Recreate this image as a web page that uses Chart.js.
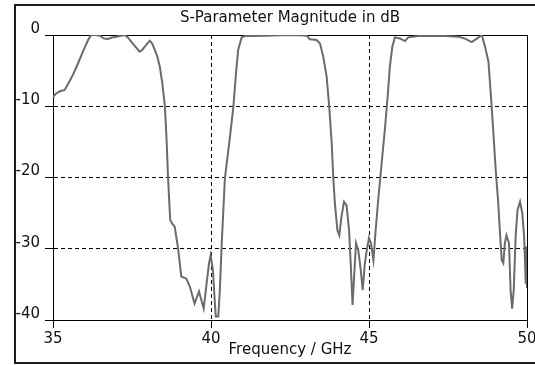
<!DOCTYPE html>
<html>
<head>
<meta charset="utf-8">
<title>S-Parameter Magnitude</title>
<script src="https://cdn.jsdelivr.net/npm/chart.js@4"></script>
<style>
  body { margin: 0; background: #fff; }
  #wrap { position: relative; width: 535px; height: 365px; overflow: hidden; }
  #frame { position: absolute; left: 14px; top: 4px; width: 600px; height: 356px; border: 2px solid #1c1c1c; }
  canvas { position: absolute; left: 0; top: 0; }
</style>
</head>
<body>
<div id="wrap">
  <div id="frame"></div>
  <canvas id="chart" width="535" height="365"></canvas>
</div>
<script>
// frequency points (GHz) and |S| in dB
const freqGHz = [
  35.00, 35.10, 35.22, 35.37, 35.47, 35.63, 35.79, 35.95, 36.11, 36.21,
  36.35, 36.48, 36.62, 36.74, 36.87, 37.00, 37.15, 37.27, 37.38, 37.48,
  37.62, 37.74, 37.82, 37.90, 38.06, 38.14, 38.22, 38.30, 38.38, 38.46,
  38.54, 38.59, 38.64, 38.68, 38.71, 38.78, 38.85, 38.96, 39.06, 39.22,
  39.33, 39.48, 39.62, 39.77, 39.86, 39.94, 39.99, 40.06, 40.10, 40.15,
  40.23, 40.28, 40.34, 40.44, 40.60, 40.71, 40.79, 40.86, 40.97, 41.08,
  41.34, 41.76, 42.18, 42.71, 43.03, 43.13, 43.34, 43.45, 43.55, 43.66,
  43.74, 43.82, 43.87, 43.92, 44.00, 44.06, 44.13, 44.21, 44.29, 44.37,
  44.42, 44.48, 44.54, 44.59, 44.66, 44.74, 44.80, 44.87, 44.93, 45.00,
  45.06, 45.14, 45.21, 45.30, 45.40, 45.51, 45.59, 45.66, 45.74, 45.82,
  45.98, 46.14, 46.24, 46.56, 46.98, 47.41, 47.83, 48.04, 48.25, 48.41,
  48.57, 48.67, 48.78, 48.86, 48.93, 49.01, 49.09, 49.14, 49.20, 49.25,
  49.30, 49.35, 49.43, 49.48, 49.53, 49.58, 49.64, 49.70, 49.78, 49.85,
  49.91, 49.96, 49.98, 50.00
];
const magDb = [
  -8.7, -8.2, -7.9, -7.7, -6.9, -5.6, -4.0, -2.3, -0.7, 0,
  0, -0.1, -0.5, -0.55, -0.35, -0.25, -0.1, 0, -0.4, -0.95,
  -1.7, -2.35, -2.1, -1.65, -0.8, -1.2, -2.1, -3.0, -4.45, -6.8,
  -10, -14.3, -19.9, -23.5, -26, -26.5, -26.9, -30, -33.9, -34.2,
  -35.3, -37.7, -36, -38.4, -34.9, -32, -30.9, -33, -36, -39.5,
  -39.5, -35.8, -29.2, -20.1, -14.3, -10, -5.4, -2.1, -0.33, -0.14,
  -0.14, -0.1, -0.05, 0, -0.1, -0.6, -0.7, -1.2, -3.0, -5.85,
  -10, -15.2, -20.1, -23.6, -27.4, -28.1, -25.5, -23.4, -23.9, -27.4,
  -32, -37.9, -33, -29.2, -30.2, -33, -35.8, -32, -30.2, -28.5,
  -29.2, -31.6, -27.4, -22.7, -18, -12.9, -8.65, -4.45, -1.6, -0.33,
  -0.5, -0.85, -0.33, -0.14, -0.1, -0.14, -0.25, -0.5, -1.0, -0.5,
  0, -1.6, -3.75, -8.65, -13.3, -18.95, -23.6, -27.4, -31.6, -32,
  -29.2, -28.1, -29.2, -35.8, -38.4, -35.8, -28.3, -24.6, -23.4, -25,
  -28.3, -34.9, -29.7, -35.5
];
const xTicks = [35, 40, 45, 50];
const yTicks = [0, -10, -20, -30, -40];

Chart.defaults.font.family = "'DejaVu Sans', sans-serif";
Chart.defaults.font.size = 15;
Chart.defaults.color = '#111';

// dashed grid inside, solid lines on the plot edges
function edgeDash(edges) {
  return (c) => (c.type === 'tick' && !edges.includes(c.tick.value)) ? [4, 3] : [];
}

const points = freqGHz.map((f, i) => ({ x: f, y: magDb[i] }));

new Chart(document.getElementById('chart'), {
  type: 'line',
  data: {
    datasets: [{
      data: points,
      borderColor: '#6b6b6b',
      borderWidth: 2,
      pointRadius: 0,
      tension: 0,
      fill: false
    }]
  },
  options: {
    responsive: false,
    animation: false,
    devicePixelRatio: 1,
    layout: { padding: { left: 0, right: 8, top: 0, bottom: 0 } },
    plugins: {
      legend: { display: false },
      tooltip: { enabled: false },
      title: {
        display: true,
        text: 'S-Parameter Magnitude in dB',
        fullSize: false,
        font: { size: 15, weight: 'normal' },
        color: '#111',
        padding: { top: 9, bottom: 8 }
      }
    },
    scales: {
      x: {
        type: 'linear',
        min: 35,
        max: 50,
        afterBuildTicks: (s) => { s.ticks = xTicks.map(v => ({ value: v })); },
        afterFit: (s) => { s.height = 45; s.paddingLeft = 0; s.paddingRight = 0; },
        grid: { color: '#000', lineWidth: 1, tickLength: 8, tickColor: '#000' },
        border: { display: true, color: '#000', width: 1, dash: edgeDash([35, 50]) },
        ticks: { padding: 2, maxRotation: 0, autoSkip: false, color: '#111' },
        title: {
          display: true,
          text: 'Frequency / GHz',
          font: { size: 15 },
          color: '#111',
          padding: { top: 0, bottom: 6 }
        }
      },
      y: {
        min: -40,
        max: 0,
        afterBuildTicks: (s) => { s.ticks = yTicks.map(v => ({ value: v })); },
        afterFit: (s) => { s.width = 53; },
        grid: { color: '#000', lineWidth: 1, tickLength: 8, tickColor: '#000' },
        border: { display: true, color: '#000', width: 1, dash: edgeDash([0, -40]) },
        ticks: { padding: 5, labelOffset: -6, color: '#111' }
      }
    }
  }
});
</script>
</body>
</html>
